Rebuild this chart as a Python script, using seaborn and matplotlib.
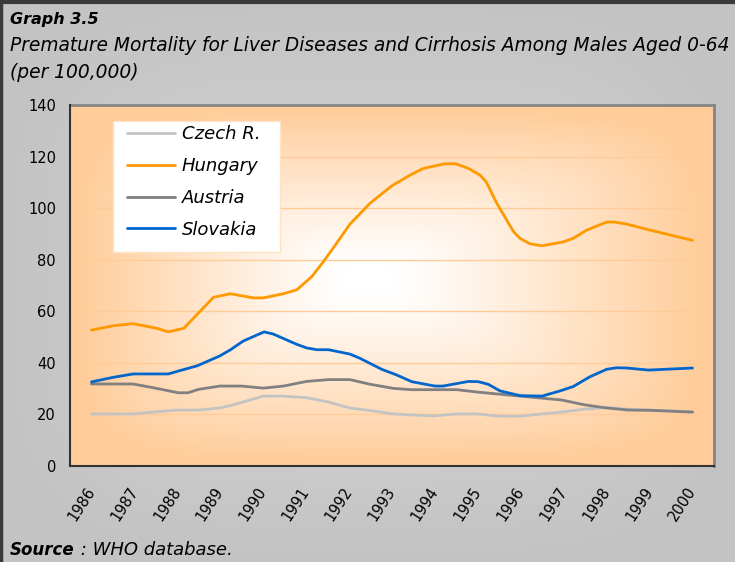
import numpy as np
import pandas as pd
import matplotlib
matplotlib.use("Agg")
import matplotlib.pyplot as plt
from matplotlib.patches import Rectangle
from matplotlib.lines import Line2D
import seaborn as sns

# ---------------- data ----------------
years = list(range(1986, 2001))

czech_year = [1986.00, 1986.97, 1987.98, 1988.49, 1988.99, 1989.30, 1990.00, 1990.47,
              1991.01, 1991.52, 1992.02, 1992.49, 1993.03, 1993.46, 1993.96, 1994.51,
              1994.97, 1995.52, 1995.98, 1996.49, 1996.95, 1997.46, 1998.00, 1998.50,
              1999.00, 2000.00]
czech_val = [20.2, 20.2, 21.7, 21.7, 22.5, 23.7, 27.1, 27.1,
             26.5, 24.8, 22.5, 21.5, 20.2, 19.8, 19.4, 20.2,
             20.2, 19.3, 19.3, 20.2, 20.9, 22.0, 22.7, 22.0,
             21.7, 21.0]

hungary_year = [1986.00, 1986.51, 1986.97, 1987.52, 1987.79, 1988.15, 1988.84, 1989.23,
                1989.77, 1990.00, 1990.47, 1990.78, 1991.13, 1991.40, 1991.71, 1992.02,
                1992.49, 1992.99, 1993.42, 1993.73, 1994.23, 1994.49, 1994.78, 1995.05,
                1995.19, 1995.44, 1995.83, 1995.98, 1996.21, 1996.49, 1996.99, 1997.22,
                1997.54, 1998.00, 1998.19, 1998.47, 1998.93, 2000.00]
hungary_val = [52.7, 54.4, 55.2, 53.4, 52.0, 53.4, 65.4, 66.8,
               65.2, 65.2, 66.8, 68.3, 73.4, 79.2, 86.4, 93.8,
               101.9, 108.6, 112.8, 115.4, 117.2, 117.2, 115.4, 112.8,
               110.3, 101.9, 90.9, 88.3, 86.2, 85.4, 86.9, 88.3,
               91.5, 94.6, 94.6, 93.8, 91.8, 87.5]

austria_year = [1986.00, 1986.97, 1987.52, 1988.02, 1988.25, 1988.49, 1988.99, 1989.50,
                1990.00, 1990.47, 1991.01, 1991.52, 1992.02, 1992.49, 1993.03, 1993.46,
                1994.51, 1994.97, 1995.98, 1996.95, 1997.46, 1998.00, 1998.50, 1999.01,
                2000.00]
austria_val = [31.8, 31.8, 30.1, 28.4, 28.4, 29.7, 31.0, 31.0,
               30.2, 31.0, 32.8, 33.5, 33.5, 31.7, 30.1, 29.6,
               29.6, 28.7, 27.1, 25.6, 23.8, 22.5, 21.7, 21.6,
               20.9]

slovakia_year = [1986.00, 1986.51, 1986.97, 1987.79, 1988.02, 1988.47, 1988.99, 1989.23,
                 1989.54, 1990.02, 1990.23, 1990.78, 1991.01, 1991.25, 1991.52, 1992.02,
                 1992.25, 1992.76, 1993.11, 1993.46, 1994.00, 1994.19, 1994.78, 1995.01,
                 1995.24, 1995.52, 1995.98, 1996.49, 1996.91, 1997.22, 1997.61, 1998.00,
                 1998.23, 1998.47, 1998.97, 1999.48, 2000.00]
slovakia_val = [32.6, 34.4, 35.7, 35.7, 36.8, 38.9, 42.7, 45.0,
                48.5, 52.0, 51.2, 47.2, 45.8, 45.1, 45.1, 43.4,
                41.8, 37.5, 35.3, 32.7, 31.0, 31.0, 32.8, 32.7,
                31.7, 29.1, 27.3, 27.1, 29.1, 30.8, 34.6, 37.5,
                38.1, 38.0, 37.2, 37.6, 38.0]

countries = ["Czech R.", "Hungary", "Austria", "Slovakia"]
colors = ["#c3c3c3", "#ff9900", "#808080", "#0066cc"]
yticks = [0, 20, 40, 60, 80, 100, 120, 140]

df = pd.concat([
    pd.DataFrame({"year": czech_year, "value": czech_val, "country": "Czech R."}),
    pd.DataFrame({"year": hungary_year, "value": hungary_val, "country": "Hungary"}),
    pd.DataFrame({"year": austria_year, "value": austria_val, "country": "Austria"}),
    pd.DataFrame({"year": slovakia_year, "value": slovakia_val, "country": "Slovakia"}),
], ignore_index=True)

# ---------------- figure ----------------
sns.set_style("white")
plt.rcParams["font.family"] = ["DejaVu Sans"]
plt.rcParams["text.color"] = "black"

W, H = 735, 562
fig = plt.figure(figsize=(W / 100, H / 100), dpi=100)

# grey background gradient for the whole figure
bg = fig.add_axes([0, 0, 1, 1], zorder=-10)
gy, gx = np.mgrid[0:1:300j, 0:1:400j]
dd = (np.abs((gx - 0.5) / 0.5) ** 4 + np.abs((gy - 0.5) / 0.5) ** 4) ** (1 / 4)
dd = np.clip(dd, 0, 1)
c_in = np.array([0.85, 0.85, 0.85])
c_out = np.array([0.765, 0.765, 0.765])
img = c_in * (1 - dd[..., None]) + c_out * dd[..., None]
bg.imshow(img, extent=[0, 1, 0, 1], origin="lower", aspect="auto")
bg.set_xlim(0, 1)
bg.set_ylim(0, 1)
bg.axis("off")
bg.add_line(Line2D([0.002, 0.002], [0, 1], color="#3a3a3a", lw=2.5, transform=bg.transAxes))
bg.add_line(Line2D([0, 1], [0.997, 0.997], color="#3a3a3a", lw=3, transform=bg.transAxes))

# main axes
ax = fig.add_axes([70 / W, (H - 466) / H, 644 / W, 361 / H])

x0, x1 = years[0] - 0.5, years[-1] + 0.5
# orange "from centre" gradient for the plot area
py, px = np.mgrid[0:1:300j, 0:1:400j]
cx, cy = 0.46, 0.52
ux = np.where(px < cx, (cx - px) / cx, (px - cx) / (1 - cx))
uy = np.where(py < cy, (cy - py) / cy, (py - cy) / (1 - cy))
pdist = (ux ** 5 + uy ** 5) ** (1 / 5)
pdist = np.clip((pdist - 0.08) / 0.9, 0, 1) ** 1.1
white = np.array([1.0, 1.0, 1.0])
orange = np.array([1.0, 0.80, 0.60])
pimg = white * (1 - pdist[..., None]) + orange * pdist[..., None]
ax.imshow(pimg, extent=[x0, x1, 0, 140], origin="lower", aspect="auto", zorder=0)

for yv in yticks[1:-1]:
    ax.axhline(yv, color="#ffcc99", lw=1.0, zorder=1)

sns.lineplot(data=df, x="year", y="value", hue="country", hue_order=countries,
             palette=colors, estimator=None, sort=True, lw=2.0, ax=ax,
             legend=False, zorder=3)

ax.set_xlim(x0, x1)
ax.set_ylim(0, 140)
ax.set_xlabel("")
ax.set_ylabel("")

ax.set_yticks(yticks)
ax.set_yticklabels([str(v) for v in yticks], fontsize=10.5)
ax.set_xticks([y - 0.5 for y in years] + [x1])
ax.set_xticklabels([])
ax.set_xticks(years, minor=True)
ax.set_xticklabels([str(y) for y in years], minor=True, fontsize=10.5,
                   rotation=57, ha="right", va="center", rotation_mode="anchor")
ax.tick_params(axis="both", which="major", direction="out", length=6, width=1.2,
               color="#333333", labelcolor="black")
ax.tick_params(axis="y", pad=4)
ax.tick_params(axis="x", which="minor", length=0, pad=16, labelcolor="black")
ax.grid(False)

for s in ["left", "bottom"]:
    ax.spines[s].set_color("#333333")
    ax.spines[s].set_linewidth(1.5)
    ax.spines[s].set_zorder(5)
for s in ["top", "right"]:
    ax.spines[s].set_color("#858585")
    ax.spines[s].set_linewidth(2.0)
    ax.spines[s].set_visible(True)

# legend box
lx0, lx1, ly0, ly1 = 113, 280, 121, 252
ax.add_patch(Rectangle(((lx0 - 70) / 644, (466 - ly1) / 361), (lx1 - lx0) / 644,
                       (ly1 - ly0) / 361, transform=ax.transAxes, facecolor="white",
                       edgecolor="#ffe3c6", lw=1.0, zorder=6))
handles = [Line2D([], [], color=c, lw=2.0) for c in colors]
leg = ax.legend(handles, countries, loc="upper left",
                bbox_to_anchor=((129 - 70) / 644 - 0.012, (466 - 120) / 361),
                frameon=False, prop={"style": "italic", "size": 13},
                handlelength=2.7, handletextpad=0.35, labelspacing=0.76,
                borderpad=0.3, borderaxespad=0, labelcolor="black")
leg.set_zorder(7)

# titles
fig.text(10 / W, 1 - 24 / H, "Graph 3.5", fontsize=11.5, fontweight="bold",
         style="italic", ha="left", va="baseline", color="black")
fig.text(10 / W, 1 - 51 / H,
         "Premature Mortality for Liver Diseases and Cirrhosis Among Males Aged 0-64",
         fontsize=13.4, style="italic", ha="left", va="baseline", color="black")
fig.text(10 / W, 1 - 78 / H, "(per 100,000)", fontsize=13.4, style="italic",
         ha="left", va="baseline", color="black")
t1 = fig.text(10 / W, 1 - 555 / H, "Source", fontsize=12, fontweight="bold",
              style="italic", ha="left", va="baseline", color="black")
ax.annotate(" : WHO database.", xy=(1, 0), xycoords=t1, fontsize=13,
            style="italic", ha="left", va="bottom", annotation_clip=False,
            color="black")

fig.savefig("out.png", dpi=100)
